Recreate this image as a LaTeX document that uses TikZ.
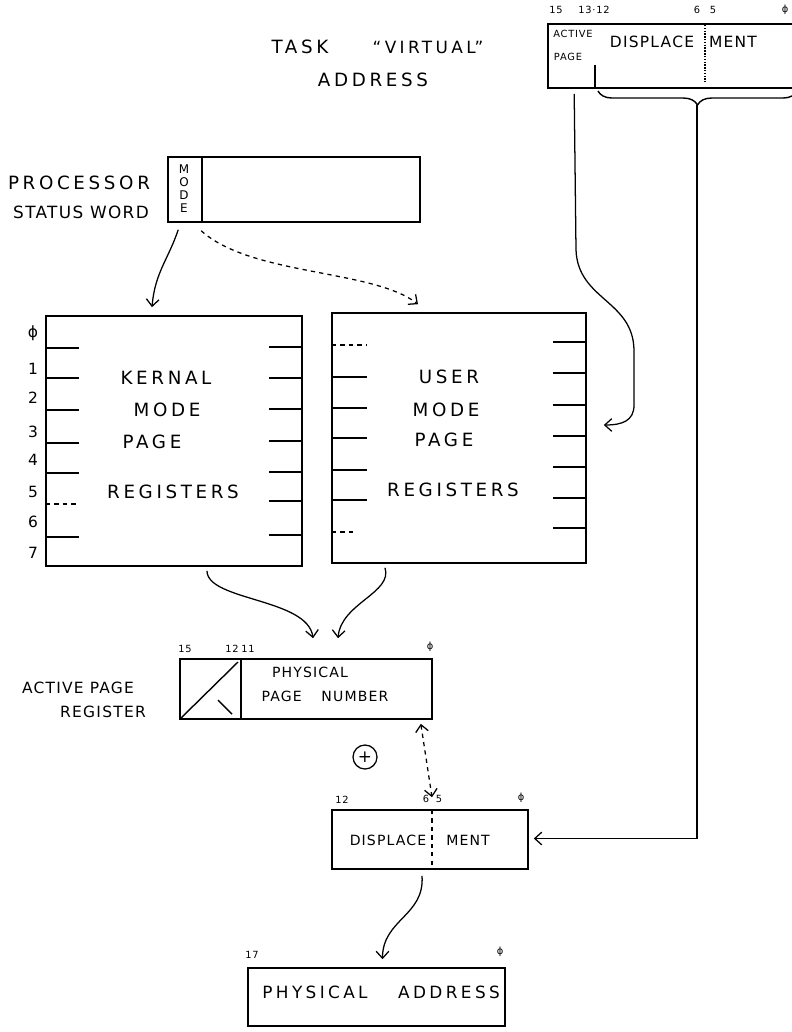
\documentclass[tikz,border=0pt]{standalone}
\usepackage{fontspec}
\setmainfont{DejaVu Sans}[LetterSpace=8]
\newfontfamily\hand{DejaVu Sans}[LetterSpace=20]
\usepackage{tikz}
\usetikzlibrary{arrows.meta}
\usetikzlibrary{calc}
\usetikzlibrary{decorations.pathreplacing}
\tikzstyle{reg} = [rectangle, draw, line width=1.1pt, inner sep=0pt]
\tikzstyle{big} = [font=\hand\fontsize{13}{15}\selectfont, inner sep=0pt]
\tikzstyle{lbl} = [font=\fontsize{11}{13}\selectfont, inner sep=0pt]
\tikzstyle{mid} = [font=\fontsize{10}{12}\selectfont, inner sep=0pt]
\tikzstyle{sml} = [font=\fontsize{7}{8}\selectfont, inner sep=0pt]
\tikzstyle{bit} = [font=\fontsize{7}{8}\selectfont, inner sep=0pt]
\tikzstyle{wire} = [line width=0.9pt, ->, >={Straight Barb[length=5pt,width=9pt]}]

\begin{document}
\begin{tikzpicture}[x=0.025cm, y=-0.025cm]
    \useasboundingbox (0,0) rectangle (791,1032);
    % registers
    \node[reg, minimum width=6.3cm, minimum height=1.6cm] (virt) at (674,56) {};
    \node[reg, minimum width=6.3cm, minimum height=1.625cm] (psw) at (294,189.5) {};
    \node[reg, minimum width=6.4cm, minimum height=6.25cm] (kernel) at (174,441) {};
    \node[reg, minimum width=6.35cm, minimum height=6.25cm] (user) at (459,438) {};
    \node[reg, minimum width=6.3cm, minimum height=1.5cm] (apr) at (306,689) {};
    \node[reg, minimum width=4.9cm, minimum height=1.475cm] (disp) at (430,839.5) {};
    \node[reg, minimum width=6.425cm, minimum height=1.45cm] (phys) at (376.5,997) {};
    \node[circle, draw, line width=0.9pt, minimum size=0.6cm, inner sep=0pt] (plus) at (365,757) {\fontsize{12}{12}\selectfont +};

    % task virtual address
    \node[big] (title1) at (300,47) {TASK};
    \node[big, font=\hand\fontsize{12}{14}\selectfont] (title2) at (428,47) {“VIRTUAL”};
    \node[big] (title3) at (373,80) {ADDRESS};
    \draw[line width=1.1pt] (595,65) -- (595,88);
    \draw[line width=1pt, densely dotted] (705,25) -- (705,82);
    \node[sml] (actv) at (573,34) {ACTIVE};
    \node[sml] (actp) at (568,57) {PAGE};
    \node[lbl] (vdisp) at (652,42) {DISPLACE};
    \node[lbl] (vment) at (733,42) {MENT};
    \node[bit] (vb15) at (556,10) {15};
    \node[bit] (vb13) at (594,10) {13·12};
    \node[bit] (vb6) at (697,10) {6};
    \node[bit] (vb5) at (713,10) {5};
    \node[bit] (vb0) at (785,10) {ϕ};
    \draw[line width=1pt, decorate, decoration={brace, amplitude=10pt}] (797,91) -- (598,91);
    \coordinate (bracetip) at (697,105);

    % processor status word
    \node[big] (proc) at (79,183) {PROCESSOR};
    \node[lbl, font=\fontsize{12}{14}\selectfont] (stat) at (81,212) {STATUS WORD};
    \draw[line width=1.1pt] (202,157) -- (202,222);
    \node[font=\fontsize{8.5}{11}\selectfont, inner sep=0pt] (mode) at (184,189) {\shortstack{M\\O\\D\\E}};

    % kernel mode page registers
    \foreach \y in {348,378,410,443,473,537}
      \draw[line width=1pt] (46,\y) -- ++(33,0);
    \draw[line width=1pt, dashed] (46,504) -- ++(33,0);
    \foreach \y in {347,378,409,441,472,501,535}
      \draw[line width=1pt] (302,\y) -- ++(-33,0);
    \foreach \t/\y [count=\i] in {ϕ/333,1/369,2/398,3/432,4/460,5/492,6/522,7/553}
      \node[lbl] (num\i) at (33,\y) {\t};
    \node[big] (kern1) at (166,378) {KERNAL};
    \node[big] (kern2) at (167,410) {MODE};
    \node[big] (kern3) at (152,442) {PAGE};
    \node[big] (kern4) at (173,492) {REGISTERS};

    % user mode page registers
    \draw[line width=1pt, dashed] (332,345) -- ++(35,0);
    \foreach \y in {377,408,438,470,500}
      \draw[line width=1pt] (332,\y) -- ++(35,0);
    \draw[line width=1pt, dashed] (332,532) -- ++(25,0);
    \foreach \y in {342,373,405,436,467,498,528}
      \draw[line width=1pt] (586,\y) -- ++(-33,0);
    \node[big] (user1) at (449,377) {USER};
    \node[big] (user2) at (446,410) {MODE};
    \node[big] (user3) at (444,440) {PAGE};
    \node[big] (user4) at (453,490) {REGISTERS};

    % active page register
    \node[lbl] (apr1) at (78,688) {ACTIVE PAGE};
    \node[lbl] (apr2) at (103,712) {REGISTER};
    \draw[line width=1.1pt] (241,659) -- (241,719);
    \draw[line width=1pt] (180,719) -- (238,662);
    \draw[line width=1pt] (218,700) -- (232,714);
    \node[bit] (ab15) at (185,649) {15};
    \node[bit] (ab12) at (232,649) {12};
    \node[bit] (ab11) at (248,649) {11};
    \node[bit] (ab0) at (430,647) {ϕ};
    \node[mid] (ppn1) at (310,672) {PHYSICAL};
    \node[mid] (ppn2) at (325,696) {PAGE\hspace{1.4em}NUMBER};

    % displacement
    \draw[line width=1.1pt, dashed] (432,810) -- (432,869);
    \node[mid] (ddisp) at (388,840) {DISPLACE};
    \node[mid] (dment) at (468,840) {MENT};
    \node[bit] (db12) at (342,800) {12};
    \node[bit] (db6) at (426,799) {6};
    \node[bit] (db5) at (439,799) {5};
    \node[bit] (db0) at (521,798) {ϕ};

    % physical address
    \node[big, font=\hand\fontsize{12}{14}\selectfont] (pa1) at (315,992) {PHYSICAL};
    \node[big, font=\hand\fontsize{12}{14}\selectfont] (pa2) at (449,992) {ADDRESS};
    \node[bit] (pb17) at (252,955) {17};
    \node[bit] (pb0) at (500,952) {ϕ};

    % connectors
    \draw[wire] ($(psw.south west)+(11,7)$) .. controls +(-10,30) and +(3,-35) .. ($(kernel.north)+(-22,-8)$);
    \draw[wire, dashed] ($(psw.south west)+(34,8)$) .. controls +(50,45) and +(-45,-35) .. ($(user.north)+(-41,-8)$);
    \draw[wire] ($(virt.south west)+(27,5)$) -- (576,250) .. controls (578,300) and (633,300) .. (634,350) -- (634,405) .. controls (634,421) and (622,425) .. ($(user.east)+(17,-13)$);
    \draw[wire] (bracetip) |- ($(disp.east)+(5,-1)$);
    \draw[wire] ($(kernel.south)+(33,4)$) .. controls +(0,30) and +(-5,-40) .. ($(apr.north)+(7,-20)$);
    \draw[wire] ($(user.south)+(-74,4)$) .. controls +(8,25) and +(3,-35) .. ($(apr.north)+(32,-20)$);
    \draw[wire, <->, dashed] ($(apr.south east)+(-12,4)$) -- ($(disp.north)+(2,-12)$);
    \draw[wire] ($(disp.south)+(-8,6)$) .. controls +(3,40) and +(0,-40) .. ($(phys.north)+(6,-8)$);
\end{tikzpicture}
\end{document}
